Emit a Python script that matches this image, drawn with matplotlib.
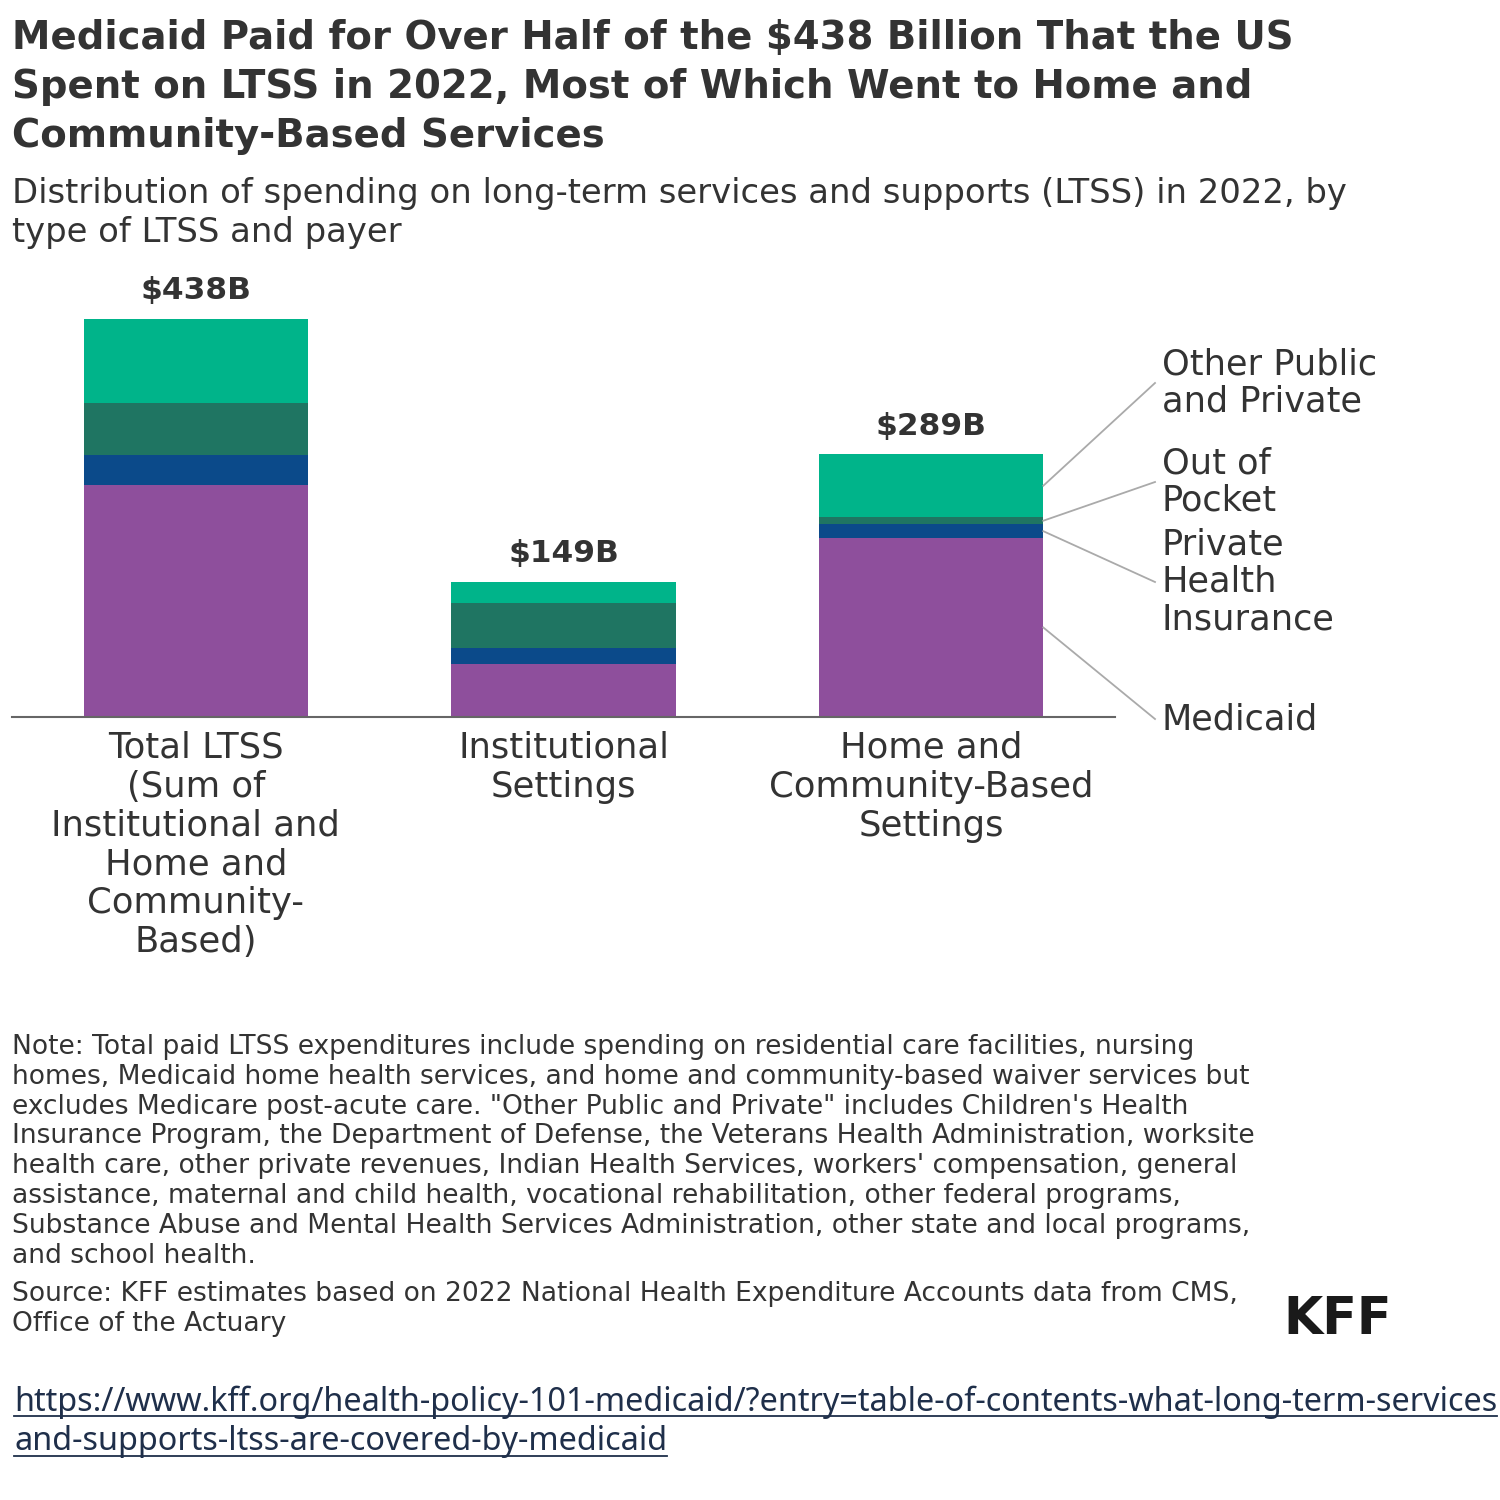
import numpy as np
import matplotlib.pyplot as plt
from matplotlib.lines import Line2D

plt.rcParams['font.family'] = ['DejaVu Sans']

# data ($ billions)
categories = ['Total LTSS\n(Sum of\nInstitutional and\nHome and\nCommunity-\nBased)',
              'Institutional\nSettings',
              'Home and\nCommunity-Based\nSettings']
medicaid = [255, 58, 197]
private_ins = [33, 18, 15]
out_of_pocket = [58, 50, 8]
other = [92, 23, 69]
totals = ['$438B', '$149B', '$289B']

series_names = ['Medicaid', 'Private\nHealth\nInsurance', 'Out of\nPocket', 'Other Public\nand Private']
colors = ['#8E4F9C', '#0B4A8A', '#1F7562', '#00B48A']

W = H = 1500
fig = plt.figure(figsize=(15, 15), dpi=100)
fig.patch.set_facecolor('white')

def fx(px):
    return px / W

def fy(py):
    return 1 - py / H

dark = '#333333'

# title + subtitle
fig.text(fx(12), fy(19), 'Medicaid Paid for Over Half of the $438 Billion That the US\n'
         'Spent on LTSS in 2022, Most of Which Went to Home and\nCommunity-Based Services',
         ha='left', va='top', fontsize=27.8, fontweight='bold', color=dark, linespacing=1.36)
fig.text(fx(12), fy(177), 'Distribution of spending on long-term services and supports (LTSS) in 2022, by\n'
         'type of LTSS and payer', ha='left', va='top', fontsize=24.4, color=dark, linespacing=1.22)

# axes
ymax = 480
px_per_unit = 398 / 438
ax_h = ymax * px_per_unit
ax = fig.add_axes([fx(12), fy(717), fx(1103), ax_h / H])
x = np.arange(len(categories))
width = 0.61
bottom = np.zeros(len(categories))
segs = [medicaid, private_ins, out_of_pocket, other]
for vals, c in zip(segs, colors):
    ax.bar(x, vals, width, bottom=bottom, color=c, linewidth=0)
    bottom = bottom + np.array(vals)

for xi, top, lab in zip(x, bottom, totals):
    ax.text(xi, top + 15, lab, ha='center', va='bottom', fontsize=22.5, fontweight='bold', color=dark)

ax.set_xlim(-0.5, 2.5)
ax.set_ylim(0, ymax)
for s in ax.spines.values():
    s.set_visible(False)
ax.axhline(0, color='#666666', lw=1.5, clip_on=False)
ax.set_yticks([])
ax.set_xticks(x)
ax.set_xticklabels(categories, fontsize=25.5, color=dark, linespacing=1.18)
ax.tick_params(axis='x', length=0, pad=10)

# leader lines from the HCBS bar to the series labels
label_py = [719, 582, 482, 383]
xe = x[2] + width / 2
x_end = -0.5 + (1155 - 12) / (1103 / 3)
x_txt = -0.5 + (1162 - 12) / (1103 / 3)
b = 0
for vals, name, py in zip(segs, series_names, label_py):
    mid = b + vals[2] / 2
    b += vals[2]
    ty = (717 - py) / px_per_unit
    ax.plot([xe, x_end], [mid, ty], color='#aaaaaa', lw=1.3, clip_on=False)
    ax.text(x_txt, ty, name, ha='left', va='center', fontsize=25.3, color=dark,
            linespacing=1.13, clip_on=False)

# notes
note = ('Note: Total paid LTSS expenditures include spending on residential care facilities, nursing\n'
        'homes, Medicaid home health services, and home and community-based waiver services but\n'
        'excludes Medicare post-acute care. "Other Public and Private" includes Children\'s Health\n'
        'Insurance Program, the Department of Defense, the Veterans Health Administration, worksite\n'
        'health care, other private revenues, Indian Health Services, workers\' compensation, general\n'
        'assistance, maternal and child health, vocational rehabilitation, other federal programs,\n'
        'Substance Abuse and Mental Health Services Administration, other state and local programs,\n'
        'and school health.')
fig.text(fx(12), fy(1034), note, ha='left', va='top', fontsize=19.1, color=dark, linespacing=1.19)
fig.text(fx(12), fy(1281), 'Source: KFF estimates based on 2022 National Health Expenditure Accounts data from CMS,\n'
         'Office of the Actuary', ha='left', va='top', fontsize=19.1, color=dark, linespacing=1.19)
fig.text(fx(1283), fy(1320), 'KFF', ha='left', va='center', fontsize=36.5, fontweight='heavy',
         color='#1a1a1a')

# url with underline
url_color = '#1F2F4A'
url_lines = ['https://www.kff.org/health-policy-101-medicaid/?entry=table-of-contents-what-long-term-services',
             'and-supports-ltss-are-covered-by-medicaid']
fig.canvas.draw()
r = fig.canvas.get_renderer()
for i, line in enumerate(url_lines):
    t = fig.text(fx(14), fy(1402 + 40 * i), line, ha='left', va='center', fontsize=23.3,
                 color=url_color, family='Noto Sans')
    bb = t.get_window_extent(renderer=r)
    uy = (bb.y0 + 3) / H
    fig.add_artist(Line2D([bb.x0 / W, bb.x1 / W], [uy, uy], color=url_color, lw=1.3))

fig.savefig('out.png', dpi=100, facecolor='white')
